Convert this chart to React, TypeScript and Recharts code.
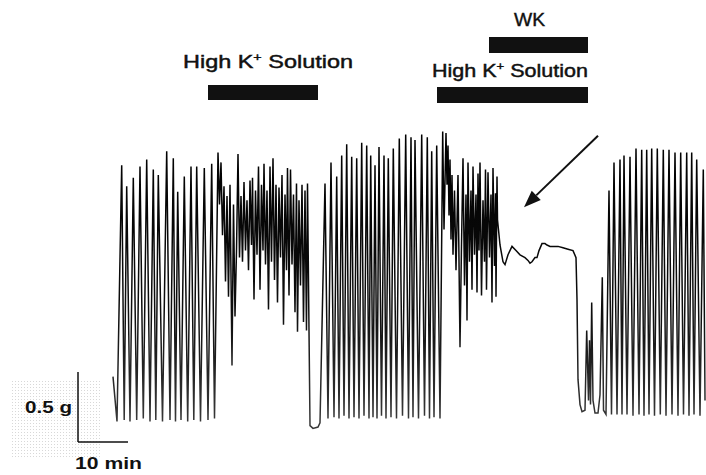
import React from "react"
import { LineChart, Line, XAxis, YAxis, ReferenceArea, ReferenceLine } from "recharts"

type Pt = [number, number]

// isometric tension trace: [time (min), force above resting baseline (g)]
const controlA: Pt[] = [
  [0, 0.31], [0.8, -0.01], [1.74, 1.82], [2.24, 0], [2.74, 1.67], [3.4, -0.01], [4.06, 1.73], [4.74, 0],
  [5.4, 1.81], [6.06, 0.01], [6.74, 1.86], [7.4, -0.01], [8.06, 1.79], [8.56, 0], [9.06, 1.75], [9.9, -0.01],
  [10.74, 1.92], [11.4, 0], [12.06, 1.87], [12.5, -0.01], [12.94, 1.63], [13.6, 0], [14.26, 1.74], [14.94, -0.01],
  [15.6, 1.81], [16.16, 0], [16.74, 1.81], [17.5, -0.01], [18.26, 1.8], [19.0, 0], [19.74, 1.83], [20.3, 0.01],
]

const highKA: Pt[] = [
  [21.0, 1.91], [21.3, 1.54], [21.6, 1.84], [21.9, 1.32], [22.2, 1.67], [22.5, 0.99], [22.8, 1.6], [23.1, 0.88],
  [23.4, 1.68], [23.8, 0.39], [24.1, 1.54], [24.4, 0.74], [24.7, 1.21], [25.0, 1.9], [25.3, 1.16], [25.6, 1.6],
  [25.9, 1.13], [26.2, 1.7], [26.5, 1.21], [26.8, 1.57], [27.1, 1.07], [27.4, 1.71], [27.7, 1.25], [27.9, 1.73],
  [28.2, 0.86], [28.5, 1.64], [28.8, 1.18], [29.1, 1.81], [29.4, 0.93], [29.7, 1.68], [30.0, 1.21], [30.2, 1.83],
  [30.5, 1.11], [30.8, 1.64], [31.1, 0.79], [31.4, 1.81], [31.7, 1.13], [32.0, 1.87], [32.3, 1.0], [32.6, 1.68],
  [32.9, 0.84], [33.2, 1.66], [33.5, 1.16], [33.8, 1.75], [34.1, 0.68], [34.4, 1.61], [34.7, 1.07], [34.9, 1.8],
  [35.2, 0.89], [35.5, 1.79], [35.8, 1.11], [36.1, 1.61], [36.4, 0.77], [36.7, 1.69], [36.9, 0.63], [37.2, 1.57],
  [37.5, 0.96], [37.8, 1.68], [38.1, 0.7], [38.4, 1.64], [38.7, 0.64], [38.9, 1.69], [39.2, 0.64], [39.4, -0.04],
  [40.0, -0.06], [41.0, -0.05], [41.4, -0.02],
]

const controlB: Pt[] = [
  [42.4, 1.69], [43.0, 0.01], [43.6, 1.84], [44.2, 0.02], [44.74, 1.74], [45.2, 0.01], [45.74, 1.89], [46.2, 0.03],
  [46.74, 1.97], [47.2, 0.01], [47.74, 1.88], [48.2, 0.02], [48.74, 1.87], [49.2, 0.01], [49.74, 1.98], [50.2, 0.03],
  [50.74, 1.96], [51.2, 0.01], [51.54, 1.89], [52.0, 0.02], [52.4, 1.82], [52.8, 0.01], [53.2, 1.95], [53.7, 0.03],
  [54.2, 1.89], [54.6, 0.01], [55.06, 1.87], [55.6, 0.02], [56.06, 1.94], [56.7, 0.01], [57.26, 2.01], [57.9, 0.03],
  [58.54, 2.04], [59.1, 0.01], [59.6, 2.02], [60.0, 0.02], [60.4, 2.0], [61.1, 0.01], [61.74, 2.04], [62.3, 0.03],
  [62.86, 2.02], [63.3, 0.01], [63.74, 1.92], [64.2, 0.02], [64.74, 1.96], [65.4, 0.01], [65.94, 2.06],
]

const highKB: Pt[] = [
  [66.2, 1.36], [66.6, 2.05], [66.8, 1.68], [67.0, 1.96], [67.2, 1.46], [67.4, 1.86], [67.6, 1.29], [67.8, 1.75],
  [68.0, 1.18], [68.3, 1.64], [68.6, 1.07], [69.0, 1.75], [69.4, 0.52], [69.7, 1.25], [70.0, 1.87], [70.3, 0.96],
  [70.6, 1.61], [70.8, 0.71], [71.0, 1.84], [71.3, 1.13], [71.6, 1.64], [71.8, 0.93], [72.0, 1.81], [72.3, 1.18],
  [72.6, 1.61], [72.8, 0.91], [73.0, 1.76], [73.2, 1.21], [73.4, 1.84], [73.7, 0.89], [74.0, 1.57], [74.3, 1.13],
  [74.5, 1.79], [74.7, 0.93], [75.0, 1.77], [75.3, 1.16], [75.6, 1.61], [75.8, 0.84], [76.0, 1.8], [76.3, 1.1],
  [76.5, 1.62], [76.6, 0.88], [76.8, 1.74],
]

const wkPhase: Pt[] = [
  [76.9, 1.43], [77.4, 1.25], [78.0, 1.13], [78.4, 1.11], [79.0, 1.18], [79.8, 1.24], [80.6, 1.21], [81.4, 1.18],
  [82.4, 1.16], [83.0, 1.14], [83.4, 1.12], [83.8, 1.13], [84.4, 1.16], [84.8, 1.16], [85.2, 1.21], [85.8, 1.26],
  [86.4, 1.26], [86.8, 1.25], [87.4, 1.24], [88.0, 1.24], [89.0, 1.24], [90.0, 1.23], [91.0, 1.22], [92.0, 1.21],
  [92.6, 1.16], [92.8, 0.86], [93.0, 0.29], [93.4, 0.11], [93.8, 0.06], [94.4, 0.07],
]

const recovery: Pt[] = [
  [94.74, 0.64], [95.1, 0.14], [95.3, 0.57], [95.5, 0.11], [95.74, 0.84], [96.0, 0.14], [96.4, 0.05], [97.0, 0.05],
  [97.4, 0.18], [97.86, 1.02], [98.1, 0.07], [98.6, 0.04], [99.2, 1.64], [99.7, 0.04], [100.2, 1.84], [100.8, 0.04],
  [101.4, 1.86], [101.8, 0.04], [102.2, 1.89], [102.8, 0.04], [103.4, 1.88], [104.0, 0.03], [104.6, 1.94], [105.2, 0.04],
  [105.74, 1.93], [106.2, 0.03], [106.74, 1.93], [107.2, 0.04], [107.74, 1.94], [108.3, 0.03], [108.86, 1.94], [109.46, 0.04],
  [110.06, 1.93], [110.6, 0.03], [111.2, 1.93], [111.8, 0.04], [112.4, 1.91], [113.0, 0.03], [113.54, 1.91], [114.1, 0.04],
  [114.74, 1.91], [115.2, 0.03], [115.74, 1.91], [116.2, 0.04], [116.74, 1.86], [117.4, 0.03], [118.06, 1.79], [118.4, 0.14],
]

// perfusion periods (min)
const highKPeriods: Pt[] = [[19.0, 41.0], [64.8, 95.0]]
const wkPeriod: Pt = [75.2, 95.0]

// calibration bars
const scaleMinutes = 10
const scaleGrams = 0.5

const FONT = "'Liberation Sans', Arial, sans-serif"

const trace = [...controlA, ...highKA, ...controlB, ...highKB, ...wkPhase, ...recovery].map(([t, f]) => ({ t, f }))

const SolutionLabel = ({ viewBox, dx = 0, lift = 12, width = 160 }: any) => {
  if (!viewBox) return null
  const cx = viewBox.x + viewBox.width / 2 + dx
  return (
    <text
      x={cx}
      y={viewBox.y - lift}
      textAnchor="middle"
      fontFamily={FONT}
      fontSize={18}
      fill="#111"
      stroke="#111"
      strokeWidth={0.45}
      textLength={width}
      lengthAdjust="spacingAndGlyphs"
    >
      High K<tspan fontSize={11} dy={-7}>+</tspan>
      <tspan dy={7}> Solution</tspan>
    </text>
  )
}

const WkLabel = ({ viewBox, dx = 0, lift = 11 }: any) => {
  if (!viewBox) return null
  return (
    <text
      x={viewBox.x + viewBox.width / 2 + dx}
      y={viewBox.y - lift}
      textAnchor="middle"
      fontFamily={FONT}
      fontSize={18}
      fill="#111"
      stroke="#111"
      strokeWidth={0.4}
      textLength={31}
      lengthAdjust="spacingAndGlyphs"
    >
      WK
    </text>
  )
}

const ScaleLabel = ({ viewBox, text, dx = 0, dy = 0, anchor = "middle", width }: any) => {
  if (!viewBox) return null
  return (
    <text
      x={viewBox.x + dx}
      y={viewBox.y + dy}
      textAnchor={anchor}
      fontFamily={FONT}
      fontWeight="bold"
      fontSize={17}
      fill="#111"
      textLength={width}
      lengthAdjust="spacingAndGlyphs"
    >
      {text}
    </text>
  )
}

// arrow pointing at the WK plateau; head drawn at the lower-left end
const Arrow = (p: any) => {
  const { x1, y1, x2, y2 } = p
  const [tx, ty, sx, sy] = x1 < x2 ? [x1, y1, x2, y2] : [x2, y2, x1, y1]
  const a = Math.atan2(ty - sy, tx - sx)
  const len = 17
  const half = 6.5
  const bx = tx - len * Math.cos(a)
  const by = ty - len * Math.sin(a)
  const pts = [
    [tx, ty],
    [bx + half * Math.sin(a), by - half * Math.cos(a)],
    [bx - half * Math.sin(a), by + half * Math.cos(a)],
  ]
  return (
    <g>
      <line x1={sx} y1={sy} x2={bx} y2={by} stroke="#111" strokeWidth={2} />
      <polygon points={pts.map((q) => q.join(",")).join(" ")} fill="#111" />
    </g>
  )
}

export default function App() {
  const barT0 = -7
  const barG0 = -0.157

  return (
    <div style={{ position: "absolute", left: 0, top: 0, width: 706, height: 475, background: "#fff" }}>
      <LineChart width={706} height={475} data={trace} margin={{ top: 0, right: 0, bottom: 0, left: 0 }}>
        <defs>
          <linearGradient id="traceInk" x1="0" y1="0" x2="0" y2="1">
            <stop offset="0%" stopColor="#000" />
            <stop offset="60%" stopColor="#0d0d0d" />
            <stop offset="100%" stopColor="#3a3a3a" />
          </linearGradient>
          <pattern id="scanDots" width="3" height="3" patternUnits="userSpaceOnUse">
            <rect x="0" y="0" width="1" height="1" fill="#a8a8a8" />
          </pattern>
        </defs>
        <XAxis dataKey="t" type="number" domain={[-22.6, 118.6]} allowDataOverflow hide />
        <YAxis type="number" domain={[-0.3929, 3]} allowDataOverflow hide />

        <ReferenceArea x1={-20.6} x2={-2.6} y1={-0.27} y2={0.29} fill="url(#scanDots)" fillOpacity={0.45} stroke="none" />

        <ReferenceArea
          x1={highKPeriods[0][0]}
          x2={highKPeriods[0][1]}
          y1={2.286}
          y2={2.393}
          fill="#111"
          fillOpacity={1}
          stroke="none"
          label={<SolutionLabel dx={5} lift={17} width={170} />}
        />
        <ReferenceArea
          x1={highKPeriods[1][0]}
          x2={highKPeriods[1][1]}
          y1={2.264}
          y2={2.379}
          fill="#111"
          fillOpacity={1}
          stroke="none"
          label={<SolutionLabel dx={-2.5} lift={10} width={156} />}
        />
        <ReferenceArea
          x1={wkPeriod[0]}
          x2={wkPeriod[1]}
          y1={2.621}
          y2={2.736}
          fill="#111"
          fillOpacity={1}
          stroke="none"
          label={<WkLabel dx={-9} lift={11} />}
        />

        <ReferenceLine
          segment={[{ x: barT0, y: barG0 }, { x: barT0, y: barG0 + scaleGrams }]}
          stroke="#111"
          strokeWidth={1.5}
          label={<ScaleLabel text="0.5 g" dx={-6} dy={41} anchor="end" width={47} />}
        />
        <ReferenceLine
          segment={[{ x: barT0, y: barG0 }, { x: barT0 + scaleMinutes, y: barG0 }]}
          stroke="#111"
          strokeWidth={1.5}
          label={<ScaleLabel text="10 min" dx={30.5} dy={27} width={67} />}
        />

        <ReferenceLine segment={[{ x: 97.0, y: 2.03 }, { x: 82.2, y: 1.52 }]} shape={Arrow} />

        <Line
          dataKey="f"
          type="linear"
          stroke="url(#traceInk)"
          strokeWidth={1.5}
          dot={false}
          activeDot={false}
          isAnimationActive={false}
        />
      </LineChart>
    </div>
  )
}
